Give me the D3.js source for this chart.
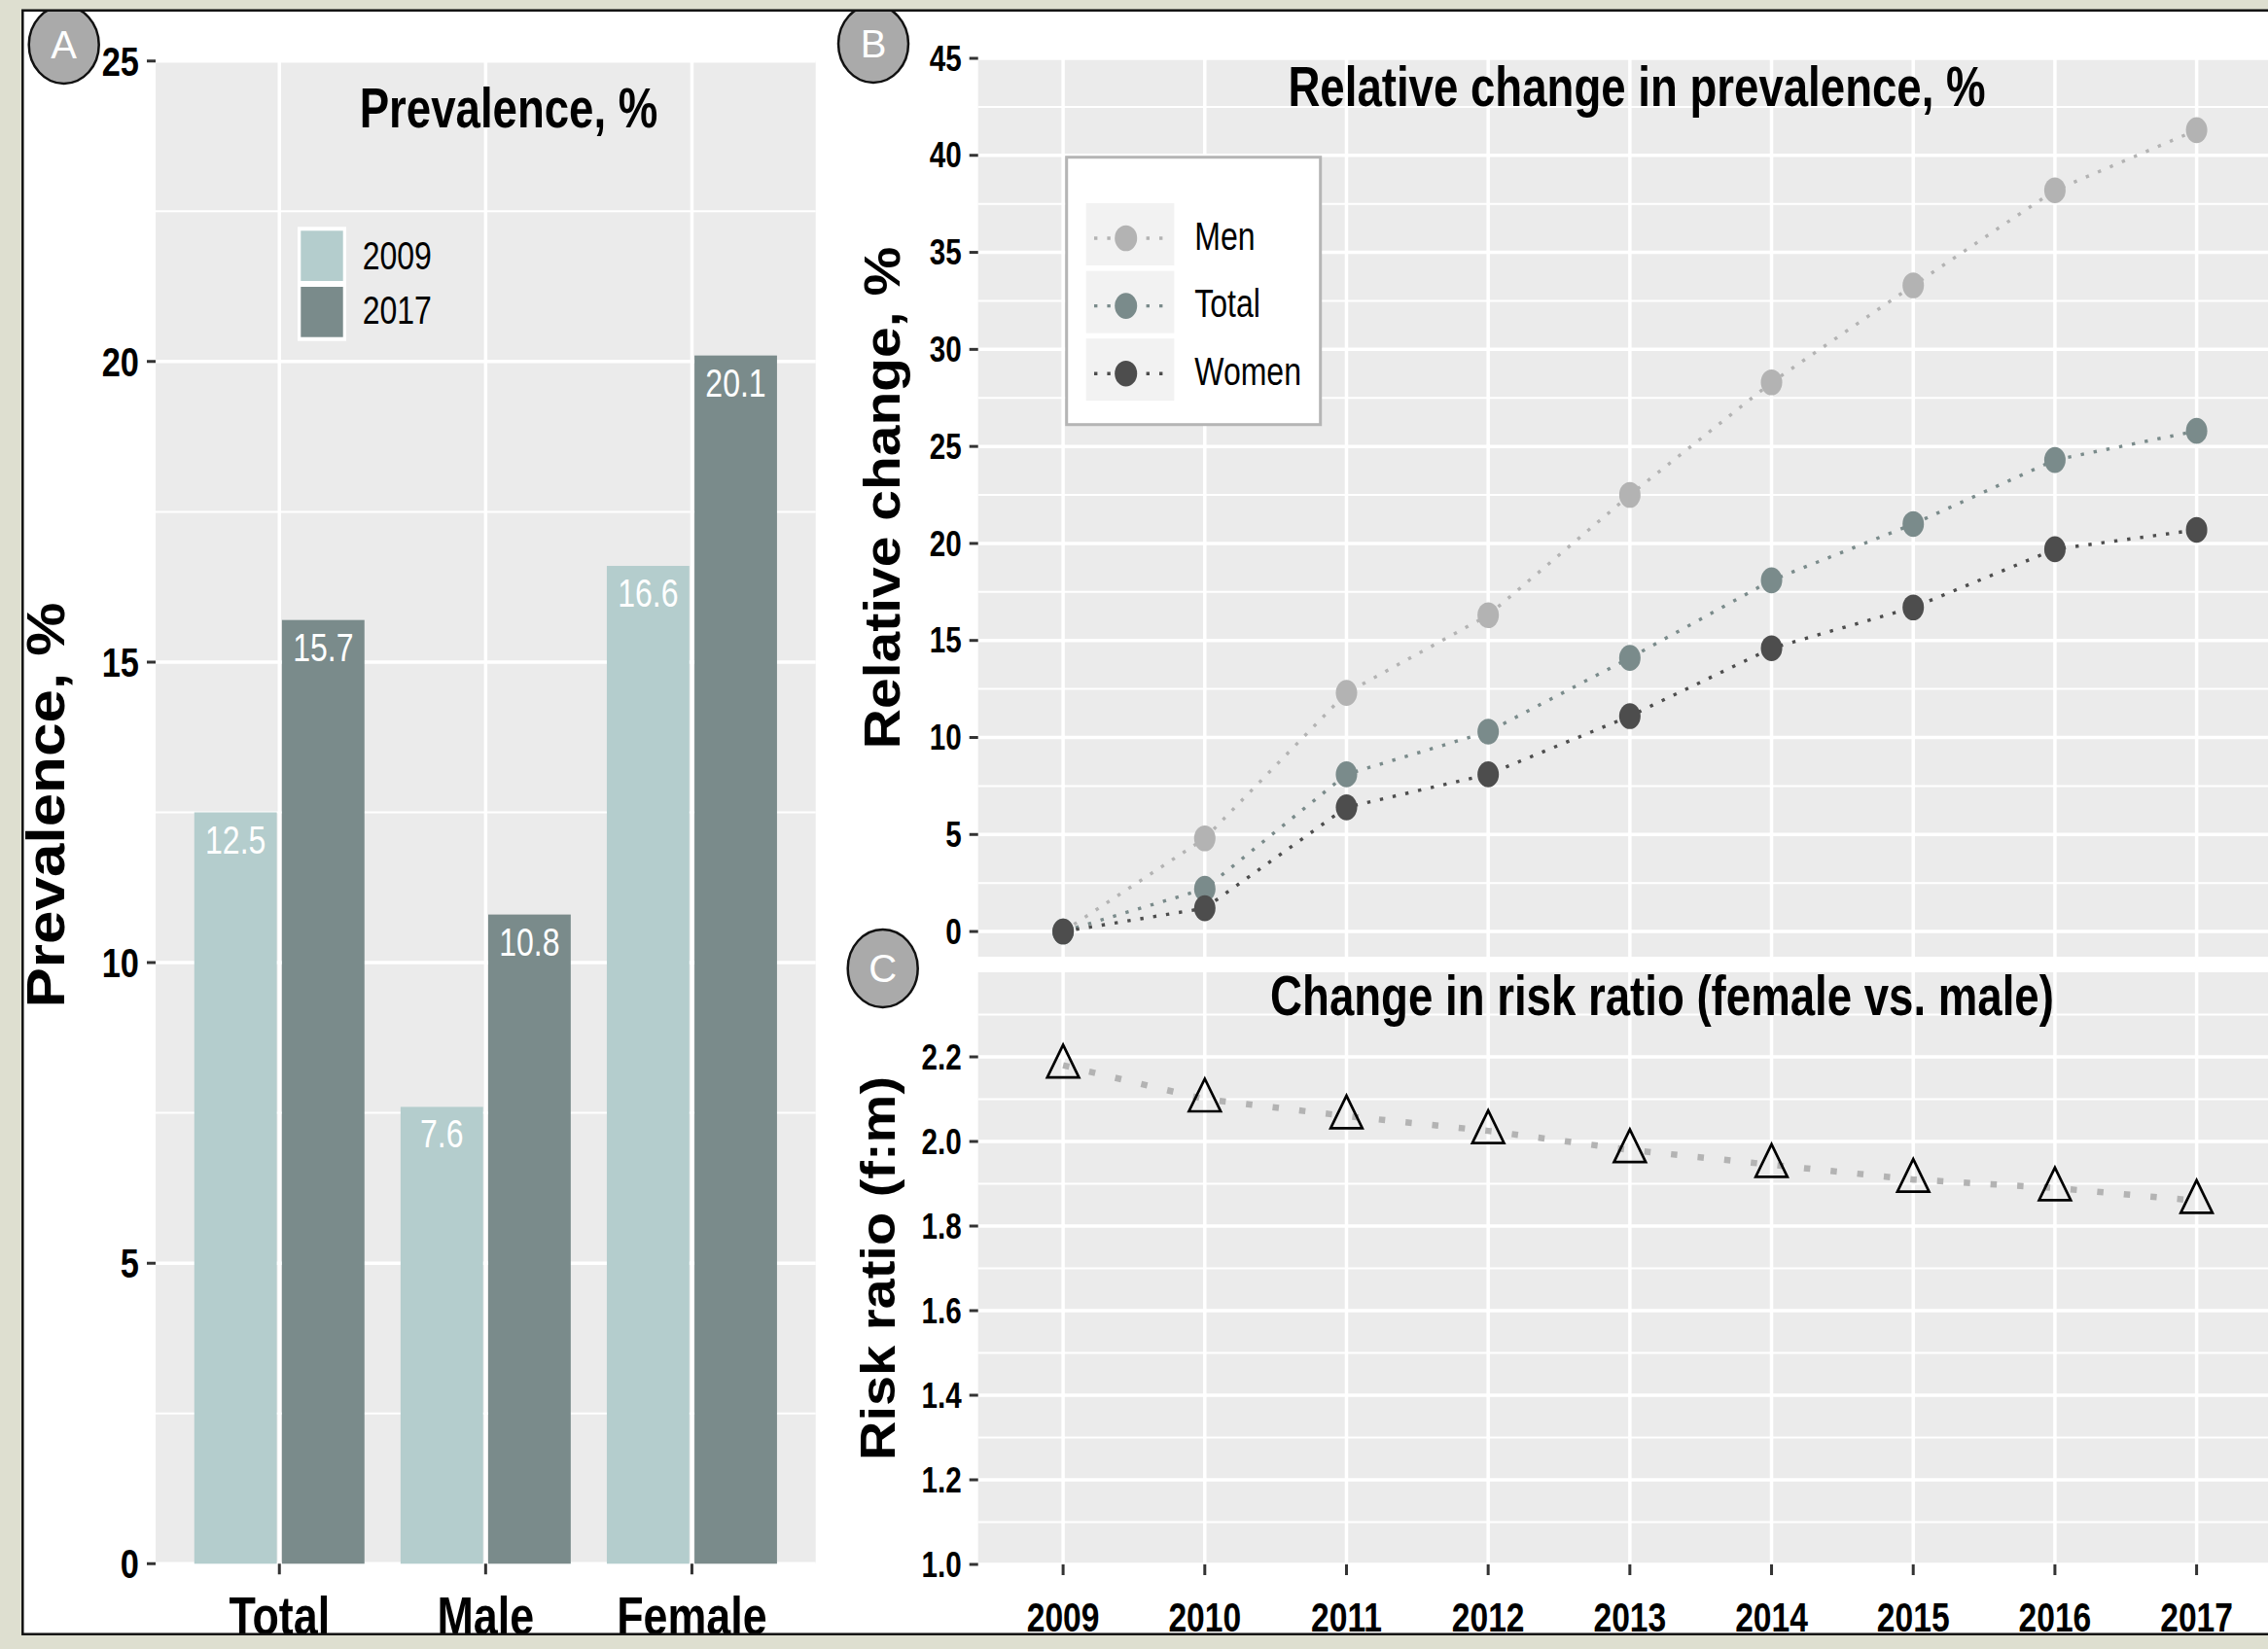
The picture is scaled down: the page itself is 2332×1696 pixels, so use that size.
<!DOCTYPE html>
<html><head><meta charset="utf-8">
<script src="https://cdn.jsdelivr.net/npm/d3@7"></script>
<style>html,body{margin:0;padding:0;background:#dedfd0;} svg{display:block}</style>
</head><body>
<script>
// ---------------- data ----------------
const categories = ["Total", "Male", "Female"];
const barYears = ["2009", "2017"];
const prev2009 = [12.5, 7.6, 16.6];
const prev2017 = [15.7, 10.8, 20.1];

const years = [2009, 2010, 2011, 2012, 2013, 2014, 2015, 2016, 2017];
const seriesNames = ["Men", "Total", "Women"];
const relMen   = [0, 4.8, 12.3, 16.3, 22.5, 28.3, 33.3, 38.2, 41.3];
const relTotal = [0, 2.2, 8.1, 10.3, 14.1, 18.1, 21.0, 24.3, 25.8];
const relWomen = [0, 1.2, 6.4, 8.1, 11.1, 14.6, 16.7, 19.7, 20.7];
const riskRatio = [2.18, 2.10, 2.06, 2.025, 1.98, 1.945, 1.91, 1.89, 1.86];

const ticksA = [0, 5, 10, 15, 20, 25];
const minorA = [2.5, 7.5, 12.5, 17.5, 22.5];
const ticksB = [0, 5, 10, 15, 20, 25, 30, 35, 40, 45];
const minorB = [2.5, 7.5, 12.5, 17.5, 22.5, 27.5, 32.5, 37.5, 42.5];
const ticksC = [1.0, 1.2, 1.4, 1.6, 1.8, 2.0, 2.2];
const minorC = [1.1, 1.3, 1.5, 1.7, 1.9, 2.1, 2.3];

const titleA = "Prevalence, %";
const titleB = "Relative change in prevalence, %";
const titleC = "Change in risk ratio (female vs. male)";
const yTitleA = "Prevalence, %";
const yTitleB = "Relative change, %";
const yTitleC = "Risk ratio (f:m)";

// ---------------- styles ----------------
const FONT = "'Liberation Sans', Arial, sans-serif";
const colBar = {"2009": "#b4cdcd", "2017": "#7a8b8b"};
const colSeries = {"Men": "#b3b3b3", "Total": "#7a8b8b", "Women": "#4d4d4d"};
const panelBg = "#ebebeb";

const W = 2332, H = 1696;
const svg = d3.select("body").append("svg").attr("width", W).attr("height", H);

svg.append("rect").attr("width", W).attr("height", H).attr("fill", "#dedfd0");
const defs = svg.append("defs");
defs.append("clipPath").attr("id", "frameClip")
  .append("rect").attr("x", 23.3).attr("y", 10.7).attr("width", 2400).attr("height", 1670);

const frame = svg.append("g").attr("clip-path", "url(#frameClip)");
frame.append("rect").attr("x", 23.3).attr("y", 10.7).attr("width", 2400).attr("height", 1670).attr("fill", "#fff");

function hText(g, x, y, str, o) {
  return g.append("text")
    .attr("transform", `translate(${x},${y}) scale(${o.sx ?? 0.8},1)`)
    .attr("text-anchor", o.anchor || "middle")
    .attr("dominant-baseline", o.baseline || "alphabetic")
    .style("font-family", FONT)
    .style("font-size", o.size + "px")
    .style("font-weight", o.weight || "normal")
    .attr("fill", o.fill || "#000")
    .text(str);
}
function vText(g, x, y, str, o) {
  return g.append("text")
    .attr("transform", `translate(${x},${y}) scale(0.9,1) rotate(-90)`)
    .attr("text-anchor", "middle")
    .style("font-family", FONT)
    .style("font-size", o.size + "px")
    .style("font-weight", "bold")
    .attr("fill", "#000")
    .text(str);
}
function hGrid(g, scale, vals, x0, x1, w) {
  g.selectAll(null).data(vals).enter().append("line")
    .attr("x1", x0).attr("x2", x1)
    .attr("y1", d => scale(d)).attr("y2", d => scale(d))
    .attr("stroke", "#fff").attr("stroke-width", w);
}
function vGrid(g, pos, vals, y0, y1, w) {
  g.selectAll(null).data(vals).enter().append("line")
    .attr("x1", d => pos(d)).attr("x2", d => pos(d))
    .attr("y1", y0).attr("y2", y1)
    .attr("stroke", "#fff").attr("stroke-width", w);
}
function yTicks(g, scale, vals, xPanel, fmt, size) {
  g.selectAll(null).data(vals).enter().append("line")
    .attr("x1", xPanel - 9).attr("x2", xPanel)
    .attr("y1", d => scale(d)).attr("y2", d => scale(d))
    .attr("stroke", "#333").attr("stroke-width", 3);
  vals.forEach(v => hText(g, xPanel - 17, scale(v), fmt(v), {size, weight: "bold", anchor: "end", baseline: "central"}));
}
function badge(g, cx, cy, letter) {
  g.append("ellipse").attr("cx", cx).attr("cy", cy).attr("rx", 36).attr("ry", 40)
    .attr("fill", "#aaaaaa").attr("stroke", "#111").attr("stroke-width", 2.5);
  g.append("text").attr("x", cx).attr("y", cy + 14).attr("text-anchor", "middle")
    .style("font-family", FONT).style("font-size", "40px").attr("fill", "#fff").text(letter);
}

// ---------------- Panel A ----------------
const A = {x0: 160, x1: 838.7, y0: 62.7, y1: 1608.3};
const gA = frame.append("g");
const xA = d3.scalePoint().domain(categories).range([A.x0, A.x1]).padding(0.6);
const yA = d3.scaleLinear().domain([0, 25]).range([A.y1, A.y0]);
const stepA = xA.step();
gA.append("rect").attr("x", A.x0).attr("y", A.y0).attr("width", A.x1 - A.x0).attr("height", A.y1 - A.y0).attr("fill", panelBg);
hGrid(gA, yA, minorA, A.x0, A.x1, 2);
hGrid(gA, yA, ticksA, A.x0, A.x1, 3.5);
vGrid(gA, xA, categories, A.y0, A.y1, 3.5);

const barData = [];
categories.forEach((c, i) => {
  barData.push({cat: c, year: "2009", v: prev2009[i], off: -0.2125});
  barData.push({cat: c, year: "2017", v: prev2017[i], off: 0.2125});
});
const bw = 0.4 * stepA;
gA.selectAll(".bar").data(barData).enter().append("rect")
  .attr("x", d => xA(d.cat) + d.off * stepA - bw / 2)
  .attr("width", bw)
  .attr("y", d => yA(d.v))
  .attr("height", d => yA(0) - yA(d.v))
  .attr("fill", d => colBar[d.year]);
barData.forEach(d => hText(gA, xA(d.cat) + d.off * stepA, yA(d.v) + 42, d.v.toFixed(1), {size: 40, fill: "#fff"}));

hText(gA, 523, 131, titleA, {size: 57, weight: "bold"});

// legend A
gA.append("rect").attr("x", 306).attr("y", 233.3).attr("width", 50).attr("height", 117.4).attr("fill", "#fff");
barYears.forEach((yv, i) => {
  gA.append("rect").attr("x", 309.3).attr("y", 237.3 + i * 57.7).attr("width", 43.4).attr("height", 51.7).attr("fill", colBar[yv]);
  hText(gA, 372.7, 276.7 + i * 56.6, yv, {size: 40, anchor: "start"});
});

yTicks(gA, yA, ticksA, A.x0, d => d, 43);
gA.selectAll(null).data(categories).enter().append("line")
  .attr("x1", d => xA(d)).attr("x2", d => xA(d)).attr("y1", A.y1).attr("y2", A.y1 + 11)
  .attr("stroke", "#333").attr("stroke-width", 3);
categories.forEach(c => hText(gA, xA(c), 1681, c, {size: 56, weight: "bold"}));
vText(gA, 66, 828, yTitleA, {size: 62});

// ---------------- Panel B ----------------
const B = {x0: 1005.7, x1: 2346, y0: 60, y1: 984};
const gB = frame.append("g");
const xB = d3.scalePoint().domain(years).range([B.x0, B.x1]).padding(0.6);
const yB = d3.scaleLinear().domain([-1.3, 45]).range([B.y1, B.y0]);
gB.append("rect").attr("x", B.x0).attr("y", B.y0).attr("width", B.x1 - B.x0).attr("height", B.y1 - B.y0).attr("fill", panelBg);
hGrid(gB, yB, minorB, B.x0, B.x1, 2);
hGrid(gB, yB, ticksB, B.x0, B.x1, 3.5);
vGrid(gB, xB, years, B.y0, B.y1, 3.5);

const seriesB = [
  {name: "Men", vals: relMen},
  {name: "Total", vals: relTotal},
  {name: "Women", vals: relWomen}
];
const lineB = d3.line().x((d, i) => xB(years[i])).y(d => yB(d));
seriesB.forEach(s => {
  gB.append("path").attr("d", lineB(s.vals)).attr("fill", "none")
    .attr("stroke", colSeries[s.name]).attr("stroke-width", 3.4).attr("stroke-dasharray", "3.4,10");
});
seriesB.forEach(s => {
  gB.selectAll(null).data(s.vals).enter().append("ellipse")
    .attr("cx", (d, i) => xB(years[i])).attr("cy", d => yB(d))
    .attr("rx", 11).attr("ry", 13.3).attr("fill", colSeries[s.name]);
});
hText(gB, 1683, 108.5, titleB, {size: 57, weight: "bold"});

// legend B
gB.append("rect").attr("x", 1096.7).attr("y", 161.7).attr("width", 261).attr("height", 275)
  .attr("fill", "#fff").attr("stroke", "#b5b5b5").attr("stroke-width", 3);
seriesNames.forEach((n, i) => {
  const ky = 209 + i * 69.6;
  gB.append("rect").attr("x", 1116.7).attr("y", ky).attr("width", 90.7).attr("height", 64).attr("fill", "#f2f2f2");
  gB.append("line").attr("x1", 1125).attr("x2", 1200).attr("y1", ky + 36).attr("y2", ky + 36)
    .attr("stroke", colSeries[n]).attr("stroke-width", 3.4).attr("stroke-dasharray", "3.4,10");
  gB.append("ellipse").attr("cx", 1157.7).attr("cy", ky + 36).attr("rx", 11.5).attr("ry", 13.3).attr("fill", colSeries[n]);
  hText(gB, 1228.3, ky + 47.7, n, {size: 40, anchor: "start"});
});

yTicks(gB, yB, ticksB, B.x0, d => d, 37);
vText(gB, 925, 512, yTitleB, {size: 57});

// ---------------- Panel C ----------------
const C = {x0: 1005.7, x1: 2346, y0: 1000, y1: 1609};
const gC = frame.append("g");
const yC = d3.scaleLinear().domain([1.0, 2.4]).range([C.y1, C.y0]);
gC.append("rect").attr("x", C.x0).attr("y", C.y0).attr("width", C.x1 - C.x0).attr("height", C.y1 - C.y0).attr("fill", panelBg);
hGrid(gC, yC, minorC, C.x0, C.x1, 2);
hGrid(gC, yC, ticksC, C.x0, C.x1, 3.5);
vGrid(gC, xB, years, C.y0, C.y1, 3.5);

const lineC = d3.line().x((d, i) => xB(years[i])).y(d => yC(d));
gC.append("path").attr("d", lineC(riskRatio)).attr("fill", "none")
  .attr("stroke", "#b3b3b3").attr("stroke-width", 6.5).attr("stroke-dasharray", "6.5,21");
gC.selectAll(null).data(riskRatio).enter().append("path")
  .attr("transform", (d, i) => `translate(${xB(years[i])},${yC(d)})`)
  .attr("d", "M0,-21 L16.3,12.5 L-16.3,12.5 Z")
  .attr("fill", "none").attr("stroke", "#000").attr("stroke-width", 2.7).attr("stroke-linejoin", "miter");
hText(gC, 1709, 1044, titleC, {size: 57, weight: "bold"});

yTicks(gC, yC, ticksC, C.x0, d => d.toFixed(1), 37);
gC.selectAll(null).data(years).enter().append("line")
  .attr("x1", d => xB(d)).attr("x2", d => xB(d)).attr("y1", C.y1).attr("y2", C.y1 + 11)
  .attr("stroke", "#333").attr("stroke-width", 3);
years.forEach(y => hText(gC, xB(y), 1678, String(y), {size: 42, weight: "bold"}));
vText(gC, 920, (C.y0 + C.y1) / 2, yTitleC, {size: 56});

// badges
badge(frame, 65.7, 46, "A");
badge(frame, 898, 45, "B");
badge(frame, 907.7, 996, "C");

// frame border
svg.append("rect").attr("x", 23.3).attr("y", 10.7).attr("width", 2400).attr("height", 1670)
  .attr("fill", "none").attr("stroke", "#111").attr("stroke-width", 2.5);
</script>
</body></html>
